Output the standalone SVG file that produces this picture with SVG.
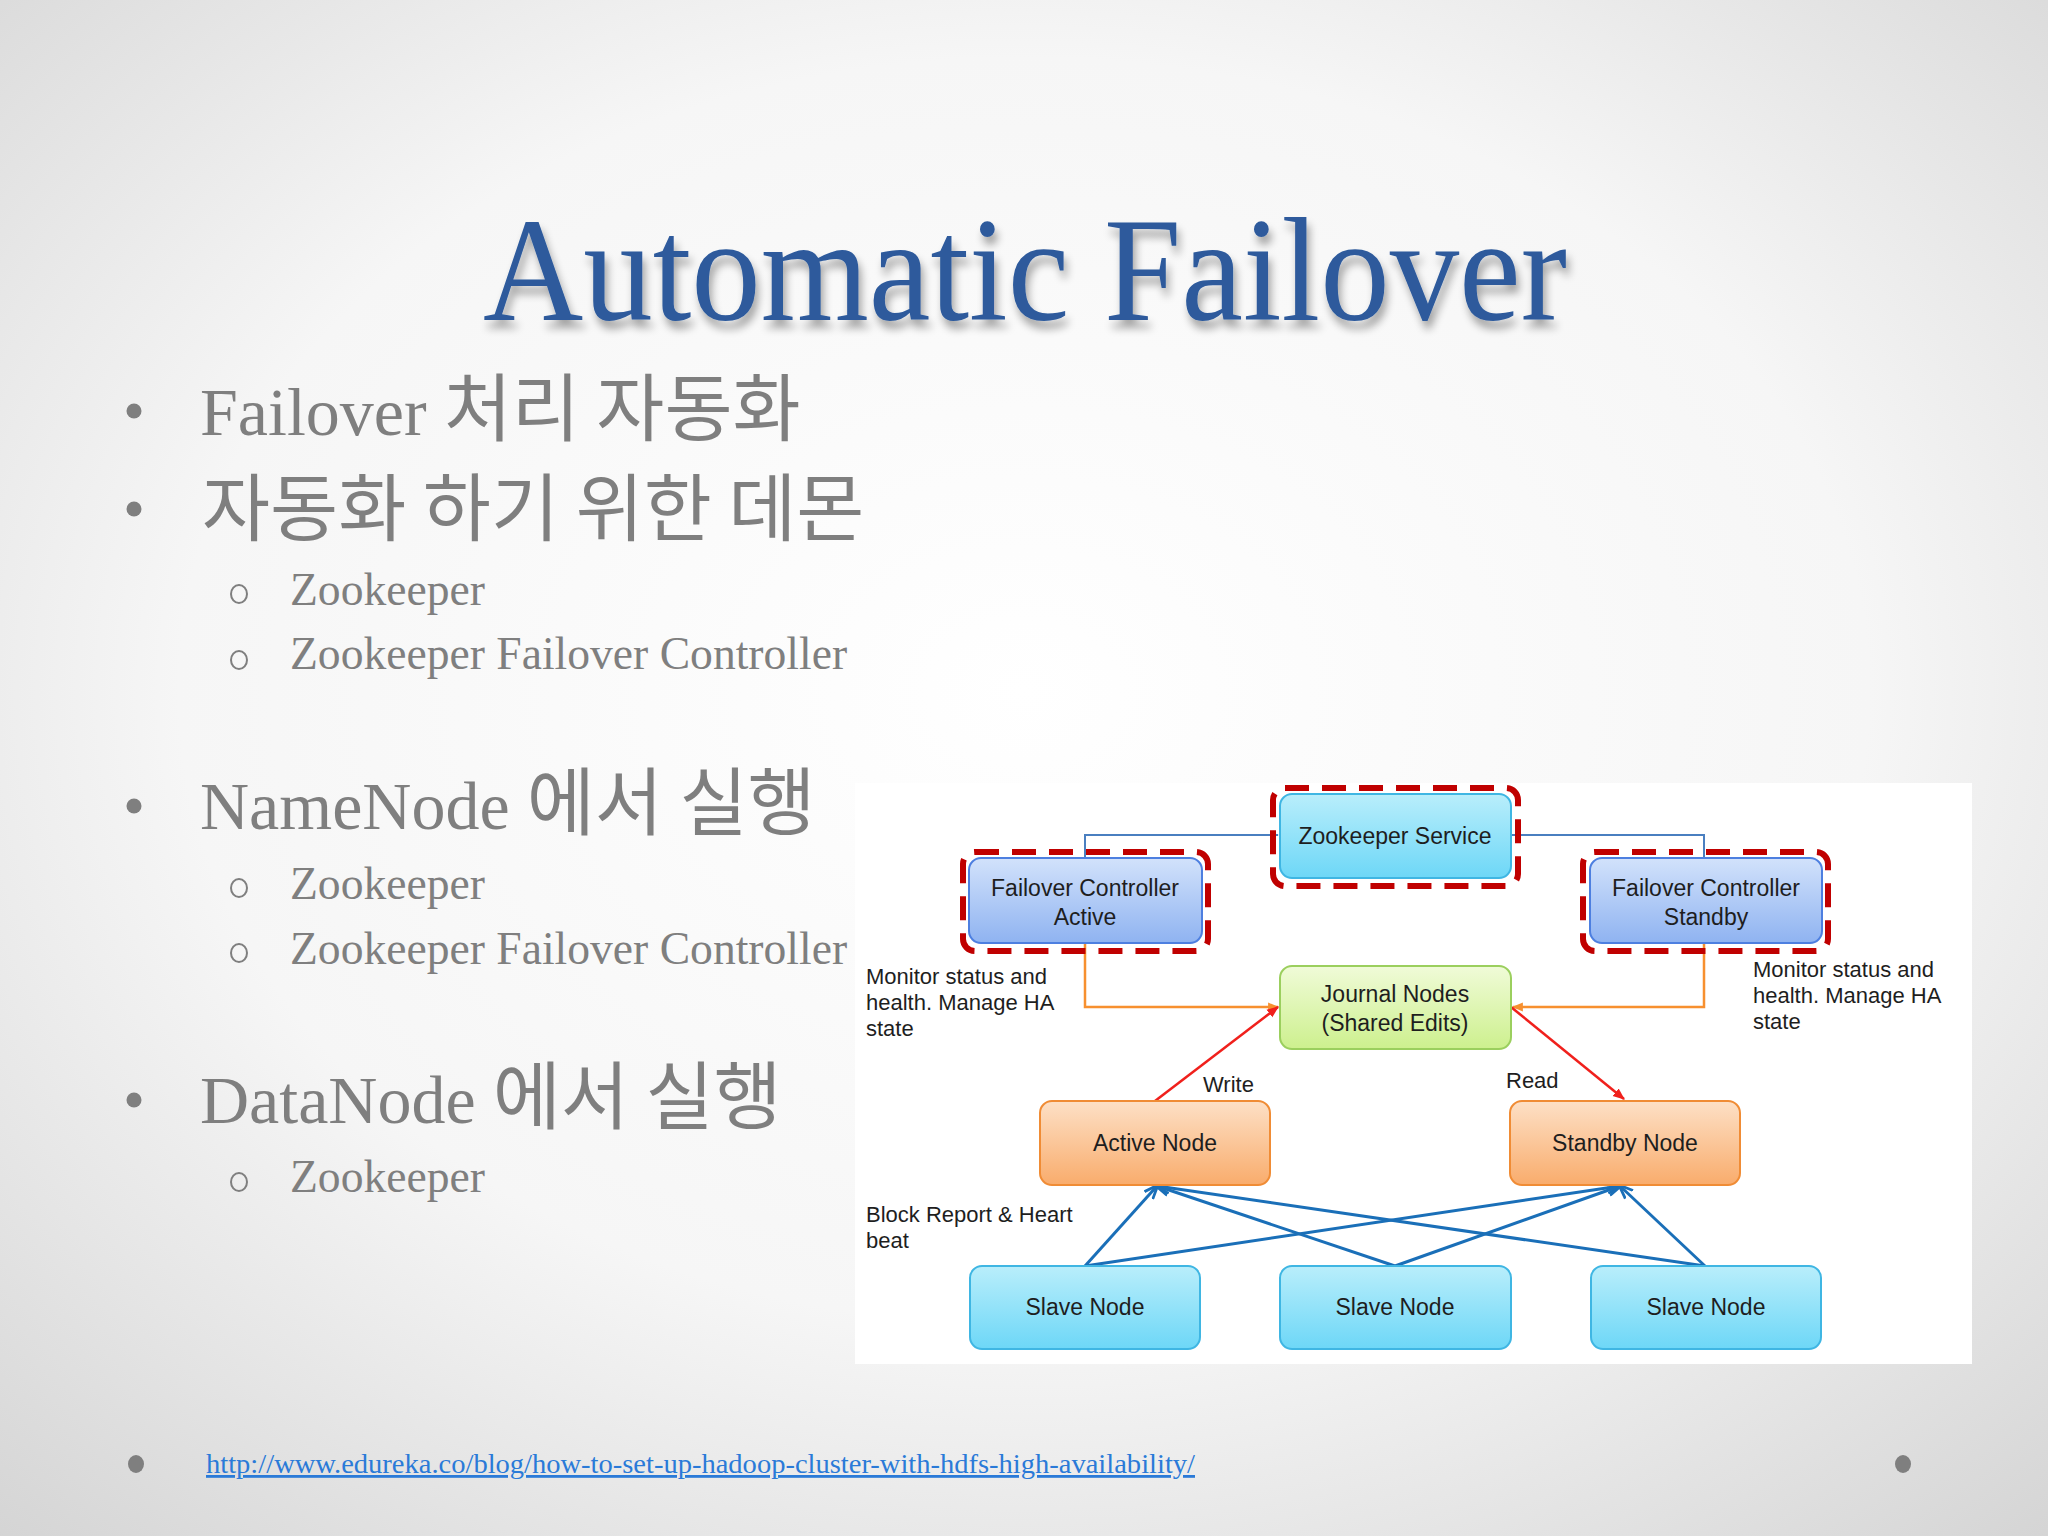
<svg xmlns="http://www.w3.org/2000/svg" width="2048" height="1536" viewBox="0 0 2048 1536">
<defs>
<radialGradient id="bg" cx="0.5" cy="0.45" r="0.75">
<stop offset="0" stop-color="#ffffff"/>
<stop offset="0.55" stop-color="#f6f6f6"/>
<stop offset="1" stop-color="#d4d4d4"/>
</radialGradient>
<linearGradient id="gCyan" x1="0" y1="0" x2="0" y2="1">
<stop offset="0" stop-color="#b9eefb"/>
<stop offset="1" stop-color="#6dd7f7"/>
</linearGradient>
<linearGradient id="gBlue" x1="0" y1="0" x2="0" y2="1">
<stop offset="0" stop-color="#d2e2fb"/>
<stop offset="1" stop-color="#8fb3f1"/>
</linearGradient>
<linearGradient id="gGreen" x1="0" y1="0" x2="0" y2="1">
<stop offset="0" stop-color="#f0fbd8"/>
<stop offset="1" stop-color="#cdf08e"/>
</linearGradient>
<linearGradient id="gOrange" x1="0" y1="0" x2="0" y2="1">
<stop offset="0" stop-color="#fde0c6"/>
<stop offset="1" stop-color="#f9ac6c"/>
</linearGradient>
<filter id="shadow" x="-5%" y="-20%" width="110%" height="150%">
<feGaussianBlur in="SourceAlpha" stdDeviation="4"/>
<feOffset dx="3" dy="8" result="b"/>
<feComponentTransfer><feFuncA type="linear" slope="0.35"/></feComponentTransfer>
<feMerge><feMergeNode/><feMergeNode in="SourceGraphic"/></feMerge>
</filter>
<marker id="aBlue" viewBox="0 0 10 10" refX="9" refY="5" markerWidth="9" markerHeight="9" orient="auto" markerUnits="userSpaceOnUse">
<path d="M0,1 L10,5 L0,9 z" fill="#4a7fc0"/>
</marker>
<marker id="aOrange" viewBox="0 0 10 10" refX="9" refY="5" markerWidth="11" markerHeight="11" orient="auto" markerUnits="userSpaceOnUse">
<path d="M0,1 L10,5 L0,9 z" fill="#f7902f"/>
</marker>
<marker id="aRed" viewBox="0 0 10 10" refX="9" refY="5" markerWidth="12" markerHeight="12" orient="auto" markerUnits="userSpaceOnUse">
<path d="M0,1 L10,5 L0,9 z" fill="#f0201c"/>
</marker>
<marker id="aDk" viewBox="0 0 10 10" refX="9" refY="5" markerWidth="14" markerHeight="14" orient="auto" markerUnits="userSpaceOnUse">
<path d="M0,1 L10,5 L0,9" fill="none" stroke="#1a6fb8" stroke-width="2"/>
</marker>
</defs>
<style>
.serif{font-family:"Liberation Serif","Times New Roman",serif;}
.kr{font-family:"Liberation Serif","Noto Sans CJK KR",serif;fill:#7f7f7f;font-size:68px;}
.h{font-family:"Noto Sans CJK KR",sans-serif;font-size:74px;}
.sub{font-family:"Liberation Serif",serif;fill:#7f7f7f;font-size:45.6px;}
.bul{fill:#7f7f7f;}
.circ{fill:none;stroke:#7f7f7f;stroke-width:2;}
.lbl{font-family:"Liberation Sans",Arial,sans-serif;font-size:22px;fill:#1e1e1e;}
.ntx{font-family:"Liberation Sans",Arial,sans-serif;font-size:23px;fill:#1e1e1e;text-anchor:middle;}
.dash{fill:none;stroke:#c00000;stroke-width:6;stroke-dasharray:24 13;}
.cyan{fill:url(#gCyan);stroke:#3fb6e3;stroke-width:2;}
.blue{fill:url(#gBlue);stroke:#4d7fe0;stroke-width:2;}
.green{fill:url(#gGreen);stroke:#9bcf5e;stroke-width:2;}
.orange{fill:url(#gOrange);stroke:#f08c35;stroke-width:2;}
.cb{fill:none;stroke:#4a7fc0;stroke-width:2;}
.co{fill:none;stroke:#f7902f;stroke-width:2.5;}
.cr{fill:none;stroke:#f0201c;stroke-width:2.5;}
.cd{fill:none;stroke:#1a6fb8;stroke-width:3;}
</style>
<rect x="0" y="0" width="2048" height="1536" fill="url(#bg)"/>

<!-- Title -->
<text class="serif" x="1025" y="320" text-anchor="middle" font-size="148" fill="#2d5a9c" textLength="1084" lengthAdjust="spacingAndGlyphs" filter="url(#shadow)">Automatic Failover</text>

<!-- Bullets -->
<g id="bullets">
<circle class="bul" cx="134" cy="411" r="7.5"/>
<text class="kr" x="200" y="435">Failover <tspan class="h">처리 자동화</tspan></text>
<circle class="bul" cx="134" cy="509" r="7.5"/>
<text class="kr h" x="202" y="535">자동화 하기 위한 데몬</text>
<ellipse class="circ" cx="239" cy="594" rx="8" ry="9"/>
<text class="sub" x="290" y="605">Zookeeper</text>
<ellipse class="circ" cx="239" cy="660" rx="8" ry="9"/>
<text class="sub" x="290" y="669">Zookeeper Failover Controller</text>
<circle class="bul" cx="134" cy="806" r="7.5"/>
<text class="kr" x="200" y="829">NameNode <tspan class="h">에서 실행</tspan></text>
<ellipse class="circ" cx="239" cy="888" rx="8" ry="9"/>
<text class="sub" x="290" y="899">Zookeeper</text>
<ellipse class="circ" cx="239" cy="953" rx="8" ry="9"/>
<text class="sub" x="290" y="964">Zookeeper Failover Controller</text>
<circle class="bul" cx="134" cy="1100" r="7.5"/>
<text class="kr" x="200" y="1123">DataNode <tspan class="h">에서 실행</tspan></text>
<ellipse class="circ" cx="239" cy="1182" rx="8" ry="9"/>
<text class="sub" x="290" y="1192">Zookeeper</text>
</g>

<!-- Diagram panel -->
<rect x="855" y="783" width="1117" height="581" fill="#ffffff"/>

<g id="connectors">
<polyline class="cb" points="1085,858 1085,835 1278,835" marker-end="url(#aBlue)"/>
<polyline class="cb" points="1704,858 1704,835 1511,835"/>
<polyline class="co" points="1085,943 1085,1007 1278,1007" marker-end="url(#aOrange)"/>
<polyline class="co" points="1704,943 1704,1007 1513,1007" marker-end="url(#aOrange)"/>
<line class="cr" x1="1155" y1="1101" x2="1278" y2="1007" marker-end="url(#aRed)"/>
<line class="cr" x1="1511" y1="1007" x2="1624" y2="1099" marker-end="url(#aRed)"/>
<line class="cd" x1="1085" y1="1266" x2="1157" y2="1186" marker-end="url(#aDk)"/>
<line class="cd" x1="1085" y1="1266" x2="1620" y2="1186" marker-end="url(#aDk)"/>
<line class="cd" x1="1395" y1="1266" x2="1157" y2="1186" marker-end="url(#aDk)"/>
<line class="cd" x1="1395" y1="1266" x2="1620" y2="1186" marker-end="url(#aDk)"/>
<line class="cd" x1="1705" y1="1266" x2="1157" y2="1186" marker-end="url(#aDk)"/>
<line class="cd" x1="1705" y1="1266" x2="1620" y2="1186" marker-end="url(#aDk)"/>
<text class="lbl" x="1203" y="1092">Write</text>
<text class="lbl" x="1506" y="1088">Read</text>
</g>

<g id="zookeeper-service">
<rect class="dash" x="1273" y="788" width="245" height="98" rx="12"/>
<rect class="cyan" x="1280" y="794" width="231" height="84" rx="12"/>
<text class="ntx" x="1395" y="844">Zookeeper Service</text>
</g>
<g id="fc-active">
<rect class="dash" x="963" y="852" width="245" height="99" rx="12"/>
<rect class="blue" x="969" y="858" width="233" height="85" rx="12"/>
<text class="ntx" x="1085" y="896">Failover Controller</text>
<text class="ntx" x="1085" y="925">Active</text>
</g>
<g id="fc-standby">
<rect class="dash" x="1583" y="852" width="245" height="99" rx="12"/>
<rect class="blue" x="1590" y="858" width="232" height="85" rx="12"/>
<text class="ntx" x="1706" y="896">Failover Controller</text>
<text class="ntx" x="1706" y="925">Standby</text>
</g>
<g id="journal-nodes">
<rect class="green" x="1280" y="966" width="231" height="83" rx="12"/>
<text class="ntx" x="1395" y="1002">Journal Nodes</text>
<text class="ntx" x="1395" y="1031">(Shared Edits)</text>
</g>
<g id="active-node">
<rect class="orange" x="1040" y="1101" width="230" height="84" rx="12"/>
<text class="ntx" x="1155" y="1151">Active Node</text>
</g>
<g id="standby-node">
<rect class="orange" x="1510" y="1101" width="230" height="84" rx="12"/>
<text class="ntx" x="1625" y="1151">Standby Node</text>
</g>
<g id="slave-1">
<rect class="cyan" x="970" y="1266" width="230" height="83" rx="12"/>
<text class="ntx" x="1085" y="1315">Slave Node</text>
</g>
<g id="slave-2">
<rect class="cyan" x="1280" y="1266" width="231" height="83" rx="12"/>
<text class="ntx" x="1395" y="1315">Slave Node</text>
</g>
<g id="slave-3">
<rect class="cyan" x="1591" y="1266" width="230" height="83" rx="12"/>
<text class="ntx" x="1706" y="1315">Slave Node</text>
</g>

<g id="labels">
<text class="lbl" x="866" y="984">Monitor status and</text>
<text class="lbl" x="866" y="1010">health. Manage HA</text>
<text class="lbl" x="866" y="1036">state</text>
<text class="lbl" x="1753" y="977">Monitor status and</text>
<text class="lbl" x="1753" y="1003">health. Manage HA</text>
<text class="lbl" x="1753" y="1029">state</text>
<text class="lbl" x="866" y="1222">Block Report &amp; Heart</text>
<text class="lbl" x="866" y="1248">beat</text>
</g>

<!-- Footer -->
<ellipse class="bul" cx="136" cy="1464" rx="8" ry="9"/>
<ellipse class="bul" cx="1903" cy="1464" rx="8" ry="9"/>
<text class="serif" x="206" y="1473" font-size="28" fill="#2a7ad8" text-decoration="underline" textLength="989" lengthAdjust="spacingAndGlyphs">http://www.edureka.co/blog/how-to-set-up-hadoop-cluster-with-hdfs-high-availability/</text>
</svg>
